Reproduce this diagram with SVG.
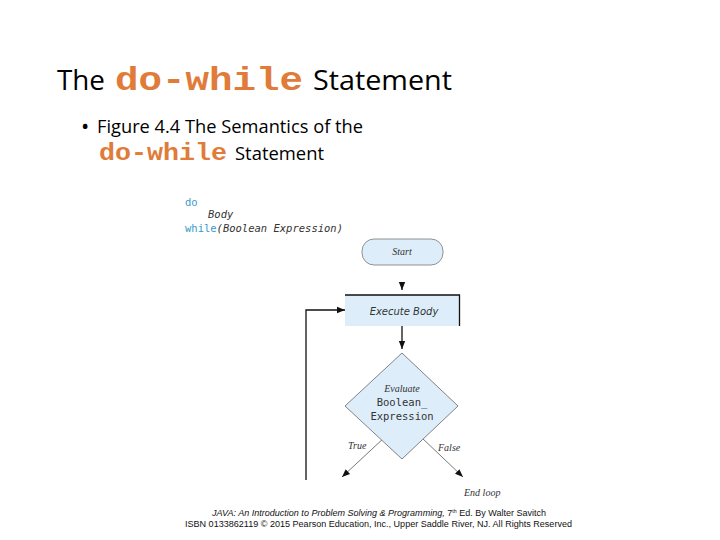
<svg xmlns="http://www.w3.org/2000/svg" width="720" height="540" viewBox="0 0 720 540">
<defs>
<style>
.title{font-family:"Open Sans","Liberation Sans",sans-serif;fill:#000}
.code{font-family:"Liberation Mono","DejaVu Sans Mono",monospace;font-weight:bold;fill:#e07b39}
.cd{font-family:"DejaVu Sans Mono","Liberation Mono",monospace;font-size:10.5px}
.kw{fill:#3a9bc9}
.it{font-family:"DejaVu Sans","Liberation Sans",sans-serif;font-style:italic;fill:#333}
.ser{font-family:"Liberation Serif","DejaVu Serif",serif;font-style:italic;fill:#333;font-size:10px}
.foot{font-family:"Liberation Sans",Arial,sans-serif;font-size:8.5px;fill:#111}
.box{fill:#ddeefa}
.ln{stroke:#111;stroke-width:1.3;fill:none}
.dg{stroke:#555;stroke-width:0.8;fill:none}
</style>
<marker id="ah" viewBox="0 0 10 10" refX="10" refY="5" markerWidth="8" markerHeight="8" markerUnits="userSpaceOnUse" orient="auto">
<path d="M0,1 L10,5 L0,9 z" fill="#111"/>
</marker>
</defs>
<rect width="720" height="540" fill="#fff"/>
<g id="title">
<text class="title" x="57" y="90" font-size="28" textLength="48" lengthAdjust="spacingAndGlyphs">The</text>
<text class="code" x="115" y="90" font-size="33" textLength="188" lengthAdjust="spacingAndGlyphs">do-while</text>
<text class="title" x="313" y="90" font-size="28" textLength="139" lengthAdjust="spacingAndGlyphs">Statement</text>
</g>
<g id="subtitle">
<text class="title" x="81" y="134" font-size="22">•</text>
<text class="title" x="97" y="133" font-size="19" textLength="266" lengthAdjust="spacingAndGlyphs">Figure 4.4 The Semantics of the</text>
<text class="code" x="99" y="160" font-size="24" textLength="128" lengthAdjust="spacingAndGlyphs">do-while</text>
<text class="title" x="235" y="160" font-size="19" textLength="89" lengthAdjust="spacingAndGlyphs">Statement</text>
</g>
<g id="code">
<text class="cd kw" x="185" y="206">do</text>
<text class="cd" x="208" y="218" font-style="italic" fill="#333">Body</text>
<text class="cd" x="185" y="232" textLength="158" lengthAdjust="spacingAndGlyphs"><tspan class="kw">while</tspan><tspan font-style="italic" fill="#333">(Boolean Expression)</tspan></text>
</g>
<g id="connectors">
<path d="M402,282 L402,290" class="ln" marker-end="url(#ah)"/>
<path d="M402,325 L402,349" class="ln" marker-end="url(#ah)"/>
<path d="M306,480 L306,310 L345,310" class="ln" marker-end="url(#ah)"/>
<path d="M385,437 L342,477" class="dg" marker-end="url(#ah)"/>
<path d="M421,437 L463,477" class="dg" marker-end="url(#ah)"/>
</g>
<g id="start">
<rect x="362" y="239" width="81" height="26" rx="12" class="box" stroke="#777" stroke-width="0.8"/>
<text class="ser" x="402" y="255" text-anchor="middle">Start</text>
</g>
<g id="execute">
<rect x="345" y="295" width="115" height="31" class="box"/>
<path d="M345,295 L459.5,295 L459.5,326" class="ln"/>
<text class="it" x="404" y="315" font-size="10" text-anchor="middle">Execute Body</text>
</g>
<g id="evaluate">
<polygon points="402,353 458,406 402,459 345,406" class="box" stroke="#666" stroke-width="0.8"/>
<text class="ser" x="402" y="392" text-anchor="middle">Evaluate</text>
<text class="cd" x="402" y="406" text-anchor="middle" fill="#333" font-size="10.5">Boolean_</text>
<text class="cd" x="402" y="420" text-anchor="middle" fill="#333" font-size="10.5">Expression</text>
</g>
<g id="labels">
<text class="ser" x="348" y="449">True</text>
<text class="ser" x="438" y="451">False</text>
<text class="ser" x="464" y="496">End loop</text>
</g>
<g id="footer">
<text class="foot" x="212" y="516" font-style="italic" textLength="334" lengthAdjust="spacingAndGlyphs">JAVA: An Introduction to Problem Solving &amp; Programming, <tspan font-style="normal">7<tspan font-size="5" dy="-3">th</tspan><tspan dy="3"> Ed. By Walter Savitch</tspan></tspan></text>
<text class="foot" x="185" y="527" textLength="387" lengthAdjust="spacingAndGlyphs">ISBN 0133862119 © 2015 Pearson Education, Inc., Upper Saddle River, NJ. All Rights Reserved</text>
</g>
</svg>
